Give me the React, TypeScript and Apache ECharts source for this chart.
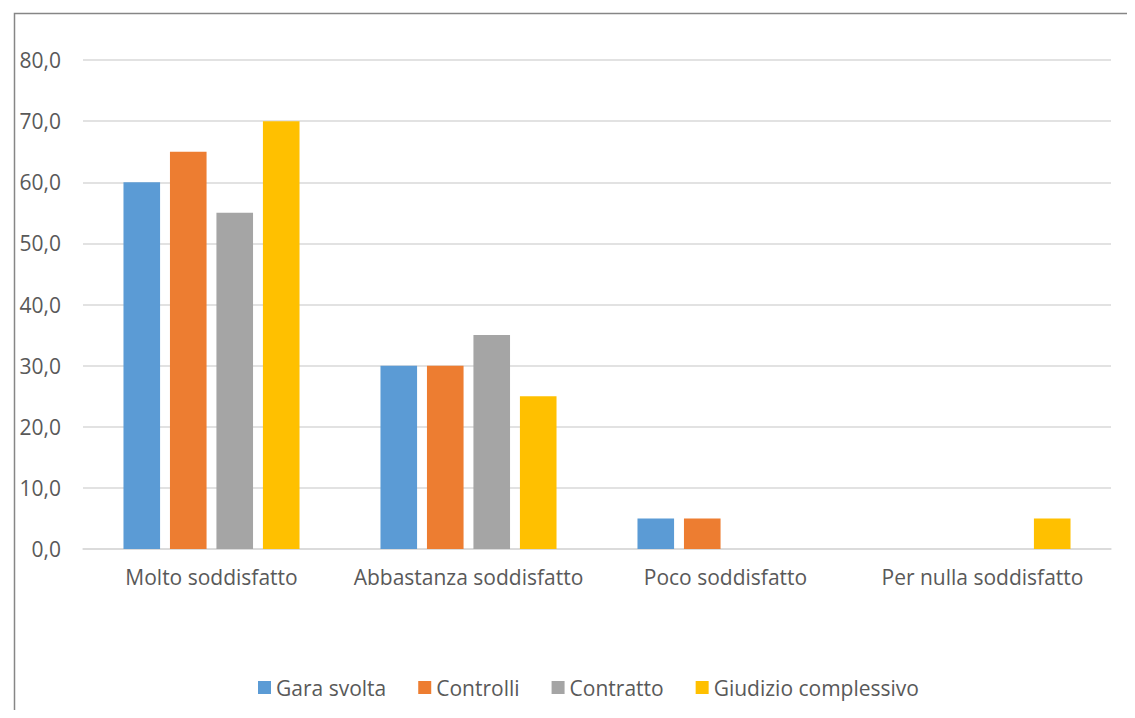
import React, { useEffect, useRef } from "react";
import * as echarts from "echarts";

const categories = ["Molto soddisfatto", "Abbastanza soddisfatto", "Poco soddisfatto", "Per nulla soddisfatto"];
const seriesNames = ["Gara svolta", "Controlli", "Contratto", "Giudizio complessivo"];
const garaSvolta = [60, 30, 5, null];
const controlli = [65, 30, 5, null];
const contratto = [55, 35, null, null];
const giudizio = [70, 25, null, 5];
const colors = ["#5b9bd5", "#ed7d31", "#a5a5a5", "#ffc000"];
const yTicks = { min: 0, max: 80, interval: 10 };

const FONT = "Open Sans";
const TEXT = "#595959";

export default function App() {
  const ref = useRef<HTMLDivElement>(null);
  useEffect(() => {
    if (!ref.current) return;
    const chart = echarts.init(ref.current, undefined, { renderer: "svg" });
    const values = [garaSvolta, controlli, contratto, giudizio];
    chart.setOption({
      animation: false,
      textStyle: { fontFamily: FONT },
      graphic: [
        {
          type: "rect",
          left: 4,
          top: 3,
          shape: { width: 3000, height: 3000 },
          style: { fill: "none", stroke: "#868686", lineWidth: 1.5 },
          silent: true,
        },
      ],
      grid: { left: 75, right: 24, top: 52, bottom: 161 },
      legend: {
        data: seriesNames,
        left: 245,
        top: 664,
        itemWidth: 13,
        itemHeight: 13,
        itemGap: 32,
        icon: "rect",
        textStyle: { fontFamily: FONT, fontSize: 21, color: TEXT },
      },
      xAxis: {
        type: "category",
        data: categories,
        axisLine: { lineStyle: { color: "#d9d9d9", width: 1.5 } },
        axisTick: { show: false },
        axisLabel: { fontFamily: FONT, fontSize: 21, color: TEXT, margin: 17, interval: 0 },
      },
      yAxis: {
        type: "value",
        min: yTicks.min,
        max: yTicks.max,
        interval: yTicks.interval,
        axisLine: { show: false },
        axisTick: { show: false },
        splitLine: { lineStyle: { color: "#d9d9d9", width: 1.5 } },
        axisLabel: {
          fontFamily: FONT,
          fontSize: 21,
          color: TEXT,
          margin: 22,
          formatter: (v: number) => v.toFixed(1).replace(".", ","),
        },
      },
      series: seriesNames.map((name, i) => ({
        name,
        type: "bar",
        data: values[i],
        itemStyle: { color: colors[i] },
        barGap: "27%",
        barCategoryGap: "31.5%",
      })),
    });
    return () => chart.dispose();
  }, []);
  return <div ref={ref} style={{ width: 1127, height: 702 }} />;
}
